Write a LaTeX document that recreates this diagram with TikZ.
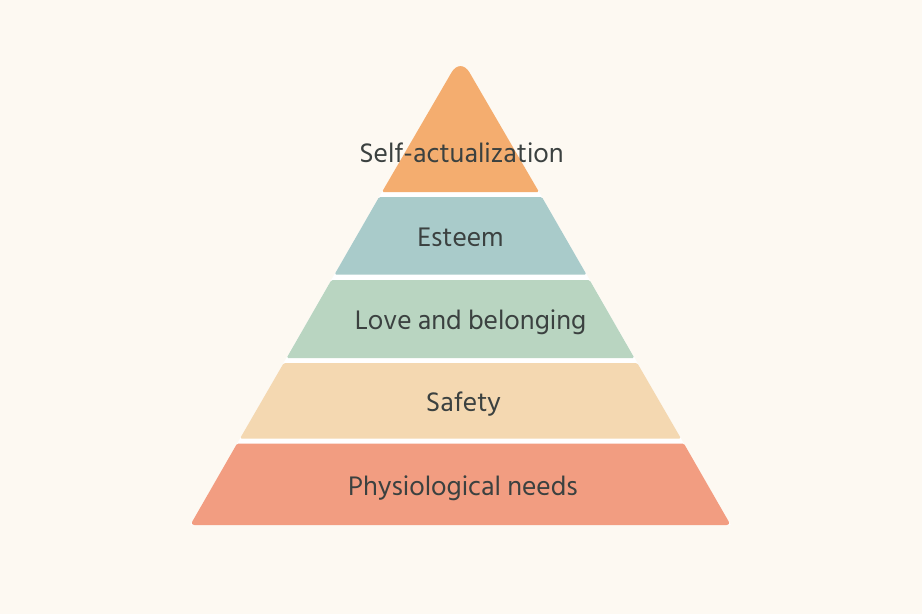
\documentclass[tikz,border=0pt]{standalone}
\usepackage{fontspec}
\setmainfont{Hind Siliguri}
\definecolor{bg}{HTML}{FDF9F2}
\definecolor{cTop}{HTML}{F4AD6F}
\definecolor{cEst}{HTML}{A9CBCA}
\definecolor{cLove}{HTML}{B9D5C1}
\definecolor{cSafe}{HTML}{F4D8B1}
\definecolor{cPhys}{HTML}{F29D81}
\definecolor{txt}{HTML}{3B4140}
\begin{document}
\begin{tikzpicture}[x=1pt,y=-1pt,
  layer/.style={rounded corners=1.5pt},
  lbl/.style={text=txt,font=\fontsize{27.5}{32}\selectfont,anchor=base,inner sep=0pt}]
\useasboundingbox (0,0) rectangle (922,614);
\fill[bg] (0,0) rectangle (922,614);
% white strips between the layers
\fill[white] (383,190) -- (538,190) -- (730.7,525) -- (190.3,525) -- cycle;
% layers
\fill[cTop] (539.0,192) [rounded corners=18pt] -- (460.5,57) [rounded corners=1.5pt] -- (382.0,192) -- cycle;
\fill[cEst, layer] (379.1,197) -- (541.9,197) -- (586.5,274.5) -- (334.5,274.5) -- cycle;
\fill[cLove, layer] (331.4,280) -- (589.6,280) -- (634.4,358) -- (286.6,358) -- cycle;
\fill[cSafe, layer] (283.7,363) -- (637.3,363) -- (681.0,438.5) -- (240.0,438.5) -- cycle;
\fill[cPhys] (237.1,443.5) [rounded corners=1.5pt] -- (683.9,443.5) [rounded corners=4pt] -- (730.7,525) -- (190.3,525) [rounded corners=1.5pt] -- cycle;
% labels
\node[lbl] (t1) at (461.5,162.3) {Self-actualization};
\node[lbl] (t2) at (460.5,246.7) {Esteem};
\node[lbl] (t3) at (470.5,329.3) {Love and belonging};
\node[lbl] (t4) at (463.5,411.7) {Safety};
\node[lbl] (t5) at (463,495.5) {Physiological needs};
\end{tikzpicture}
\end{document}
